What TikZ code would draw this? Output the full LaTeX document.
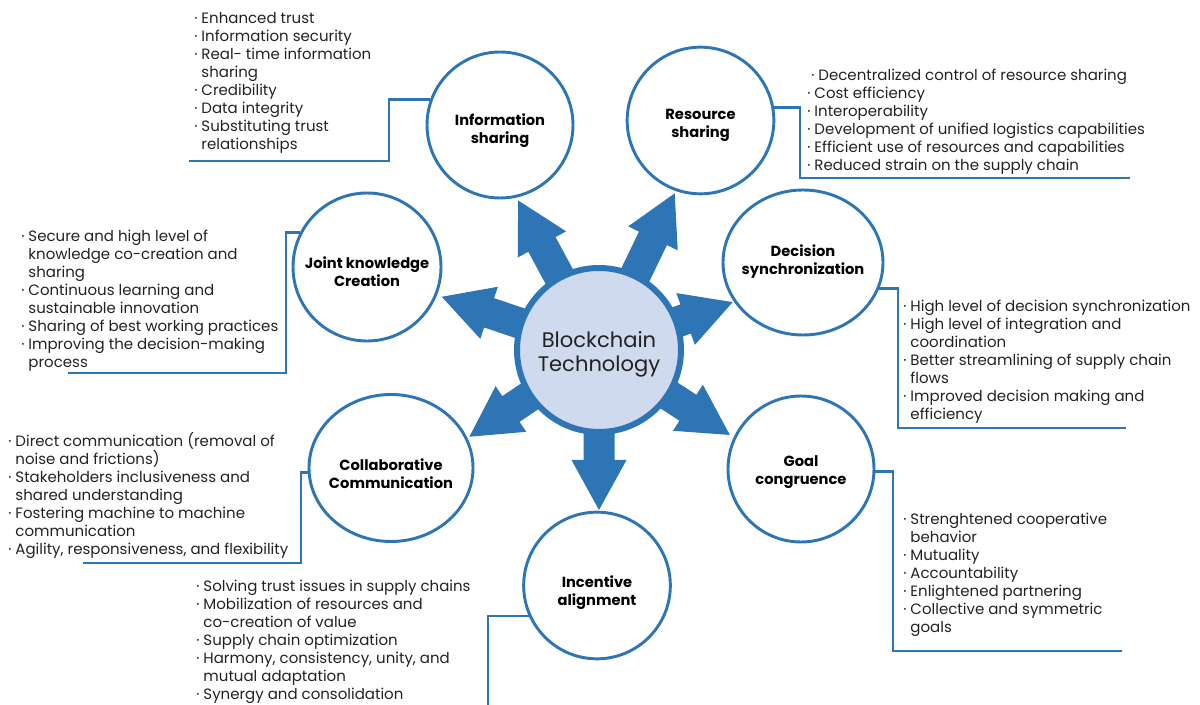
\documentclass[tikz,border=0pt]{standalone}
\usepackage{fontspec}
\setmainfont{Poppins}
\usetikzlibrary{shapes.geometric,calc}
\definecolor{blu}{HTML}{2E75B6}
\definecolor{bcfill}{HTML}{D0DAEE}
\definecolor{txt}{HTML}{222222}
\newcommand\bl[1]{\makebox[5.4pt][l]{·}#1}
\newcommand\cl[1]{\hspace*{5.4pt}#1}
% centred two-line title, lowered by #1, of zero size
\newcommand\ttl[3]{\makebox[0pt]{\raisebox{-#1}[0pt][0pt]{\begin{tabular}{@{}c@{}}#2\\#3\end{tabular}}}}
\begin{document}
\begin{tikzpicture}[x=0.75pt,y=-0.75pt,
  topic/.style={circle, draw=blu, line width=2.2pt, fill=white, minimum size=110pt, inner sep=0pt, font=\bfseries\fontsize{11}{13.5}\selectfont},
  etopic/.style={ellipse, draw=blu, line width=2.2pt, fill=white, inner sep=0pt, font=\bfseries\fontsize{11}{13.5}\selectfont},
  core/.style={circle, draw=blu, line width=4.5pt, fill=bcfill, minimum size=123pt, inner sep=0pt, text=txt, font=\fontsize{15.8}{18}\selectfont},
  conn/.style={draw=blu, line width=2pt},
  txtblk/.style={anchor=west, align=left, inner sep=0pt, font=\fontsize{11.25}{13.5}\selectfont, text=txt}]
\useasboundingbox (0,0) rectangle (1200,705);

\coordinate (c) at (599,350);
% block arrows
\foreach \a/\l in {118.4/170, 64.2/174, 19.7/142, -33/156, -90/160, 213.8/156, 161.3/166}
  \fill[blu, shift={(c)}, rotate=\a] (40,-15.5) -- (\l-50,-15.5) -- (\l-50,-27.5) -- (\l,0) -- (\l-50,27.5) -- (\l-50,15.5) -- (40,15.5) -- cycle;

\node[core] (bc) at (c) {\ttl{6.95pt}{Blockchain}{Technology}};

% topic circles
\node[topic, minimum size=109.5pt] (info) at (500,125) {\ttl{7pt}{Information}{sharing}};
\node[topic] (res) at (700.5,120.5) {\ttl{5.9pt}{Resource}{sharing}};
\node[etopic, minimum width=120pt, minimum height=108.75pt] (dec) at (803,262.5) {\ttl{2.6pt}{Decision}{synchronization}};
\node[topic, minimum size=109.5pt] (goal) at (801,469) {\ttl{4.8pt}{Goal}{congruence}};
\node[topic] (inc) at (597,585.5) {\ttl{8.1pt}{Incentive}{alignment}};
\node[etopic, minimum width=123pt, minimum height=110.25pt] (col) at (391,468) {\ttl{8.5pt}{Collaborative}{Communication}};
\node[topic, minimum size=111pt] (joint) at (367,267) {\ttl{7.7pt}{Joint knowledge}{Creation}};

% connector coordinates
\coordinate (infoK) at (389,0);   \coordinate (infoE) at (189,161);
\coordinate (resK) at (800,0);    \coordinate (resE) at (1130,178);
\coordinate (decK) at (898,0);    \coordinate (decE) at (1126,428);
\coordinate (goalK) at (893,0);   \coordinate (goalE) at (1122,651);
\coordinate (incK) at (488,0);    \coordinate (incE) at (488,706);
\coordinate (colK) at (301,0);    \coordinate (colE) at (83,563);
\coordinate (jointK) at (286,0);  \coordinate (jointE) at (68,373);

\draw[conn] (info.160) -- (info.160 -| infoK) |- (infoE);
\draw[conn] (res.10) -- (res.10 -| resK) |- (resE);
\draw[conn] (dec.-19) -- (dec.-19 -| decK) |- (decE);
\draw[conn] (goal.-2) -- (goal.-2 -| goalK) |- (goalE);
\draw[conn] (inc.204) -- (inc.204 -| incK) -- (incE);
\draw[conn] (col.183) -- (col.183 -| colK) |- (colE);
\draw[conn] (joint.153) -- (joint.153 -| jointK) |- (jointE);

% text blocks
\node[txtblk] (infoT) at (194,83) {\bl{Enhanced trust}\\\bl{Information security}\\\bl{Real- time information}\\\cl{sharing}\\\bl{Credibility}\\\bl{Data integrity}\\\bl{Substituting trust}\\\cl{relationships}};
\node[txtblk] (resT) at (807,122) {\hspace*{3pt}\bl{Decentralized control of resource sharing}\\\bl{Cost efficiency}\\\bl{Interoperability}\\\bl{Development of unified logistics capabilities}\\\bl{Efficient use of resources and capabilities}\\\bl{Reduced strain on the supply chain}};
\node[txtblk] (decT) at (903,361.5) {\bl{High level of decision synchronization}\\\bl{High level of integration and}\\\cl{coordination}\\\bl{Better streamlining of supply chain}\\\cl{flows}\\\bl{Improved decision making and}\\\cl{efficiency}};
\node[txtblk] (goalT) at (903,575) {\bl{Strenghtened cooperative}\\\cl{behavior}\\\bl{Mutuality}\\\bl{Accountability}\\\bl{Enlightened partnering}\\\bl{Collective and symmetric}\\\cl{goals}};
\node[txtblk] (incT) at (196,641.5) {\bl{Solving trust issues in supply chains}\\\bl{Mobilization of resources and}\\\cl{co-creation of value}\\\bl{Supply chain optimization}\\\bl{Harmony, consistency, unity, and}\\\cl{mutual adaptation}\\\bl{Synergy and consolidation}};
\node[txtblk] (colT) at (8,495.5) {\bl{Direct communication (removal of}\\\cl{noise and frictions)}\\\bl{Stakeholders inclusiveness and}\\\cl{shared understanding}\\\bl{Fostering machine to machine}\\\cl{communication}\\\bl{Agility, responsiveness, and flexibility}};
\node[txtblk] (jointT) at (21,301) {\bl{Secure and high level of}\\\cl{knowledge co-creation and}\\\cl{sharing}\\\bl{Continuous learning and}\\\cl{sustainable innovation}\\\bl{Sharing of best working practices}\\\bl{Improving the decision-making}\\\cl{process}};
\end{tikzpicture}
\end{document}
